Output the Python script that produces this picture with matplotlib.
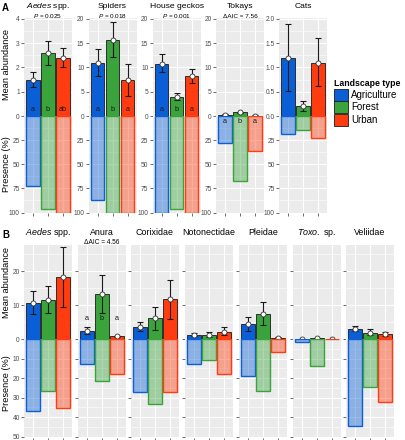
import numpy as np
import matplotlib.pyplot as plt
from matplotlib.patches import Patch
from matplotlib.colors import to_rgba

plt.rcParams['font.family'] = ['Liberation Sans', 'DejaVu Sans']
plt.rcParams['mathtext.fontset'] = 'custom'
plt.rcParams['mathtext.rm'] = 'Liberation Sans'
plt.rcParams['mathtext.it'] = 'Liberation Sans:italic'

W, H = 405, 440
landscapes = ['Agriculture', 'Forest', 'Urban']
colors = ['#0b5fd6', '#3aa33c', '#ff3c10']

# panel A
a_taxa = ['$Aedes$ spp.', 'Spiders', 'House geckos', 'Tokays', 'Cats']
a_stats = ['$P$ = 0.025', '$P$ = 0.018', '$P$ = 0.001', 'ΔAIC = 7.56', '']
a_mean = [[1.5, 2.6, 2.4], [11.0, 15.7, 7.4], [10.8, 4.0, 8.2], [0.25, 0.8, 0.08], [1.2, 0.2, 1.1]]
a_lo = [[1.2, 2.1, 2.0], [8.2, 12.1, 4.1], [9.1, 3.3, 6.7], [0.2, 0.7, 0.0], [0.52, 0.1, 0.61]]
a_hi = [[1.8, 3.1, 2.8], [13.7, 19.3, 10.7], [12.7, 4.8, 9.7], [0.35, 0.9, 0.15], [1.9, 0.31, 1.6]]
a_presence = [[73, 96, 100], [87, 100, 100], [100, 96, 100], [28, 67, 36], [19, 15, 23]]
a_letters = [['a', 'b', 'ab'], ['a', 'b', 'a'], ['a', 'b', 'a'], ['a', 'b', 'a'], []]
a_ymax = [4, 20, 20, 20, 2]
a_ystep = [1, 5, 5, 5, 0.5]

# panel B
b_taxa = ['$Aedes$ spp.', 'Anura', 'Corixidae', 'Notonectidae', 'Pleidae', '$Toxo.$ sp.', 'Veliidae']
b_stats = ['', 'ΔAIC = 4.56', '', '', '', '', '']
b_mean = [[10.6, 11.6, 18.2], [2.45, 13.3, 0.8], [3.6, 6.1, 11.8], [1.2, 1.2, 2.0],
          [4.5, 7.35, 0.4], [0.05, 0.25, 0.0], [2.9, 1.9, 1.5]]
b_lo = [[7.4, 7.8, 9.4], [1.5, 7.6, 0.7], [2.3, 2.7, 5.9], [0.8, 0.6, 1.3],
        [2.5, 4.2, 0.35], [0.0, 0.2, 0.0], [2.45, 1.2, 1.0]]
b_hi = [[14.0, 15.5, 27.1], [3.5, 18.8, 0.9], [5.1, 9.3, 17.5], [1.8, 2.1, 3.5],
        [6.5, 10.8, 0.5], [0.1, 0.35, 0.0], [3.7, 2.9, 2.0]]
b_presence = [[36.6, 26.4, 35.2], [12.8, 21.3, 17.9], [27.2, 33.2, 26.9], [12.8, 10.5, 17.7],
              [19.0, 26.4, 6.5], [1.7, 14.0, 0.0], [44.6, 24.7, 32.3]]
b_letters = [[], ['a', 'b', 'a'], [], [], [], [], []]

fig = plt.figure(figsize=(W / 100, H / 100), dpi=100)
x = np.arange(1, 4)
FW = 48


def style(ax):
    ax.set_facecolor('#EBEBEB')
    for s in ax.spines.values():
        s.set_visible(False)
    ax.set_xlim(0.4, 3.6)
    ax.set_xticks(x)
    ax.grid(True, which='major', color='white', lw=0.8, zorder=0)
    ax.grid(True, which='minor', axis='y', color='white', lw=0.4, zorder=0)
    ax.set_axisbelow(True)
    ax.tick_params(axis='y', which='major', length=2, width=0.5, color='#333333',
                   labelsize=4.8, labelcolor='#4d4d4d', pad=1)
    ax.tick_params(axis='y', which='minor', length=0)


def facet(x0, top, zero, bottom, mean, lo, hi, pres, umax, uticks, uminor, lmax, lticks, lminor, labels=True):
    ax_u = fig.add_axes([x0 / W, 1 - zero / H, FW / W, (zero - top) / H])
    ax_l = fig.add_axes([x0 / W, 1 - bottom / H, FW / W, (bottom - zero) / H])
    for ax in (ax_u, ax_l):
        style(ax)
    ax_u.set_ylim(0, umax)
    ax_u.set_yticks(uticks)
    ax_u.set_yticks(uminor, minor=True)
    ax_u.tick_params(axis='x', length=0, labelbottom=False)
    ax_l.set_ylim(lmax, 0)
    ax_l.set_yticks(lticks)
    ax_l.set_yticks(lminor, minor=True)
    ax_l.tick_params(axis='x', length=2, width=0.5, color='#333333', labelbottom=False)
    if not labels:
        ax_u.tick_params(axis='y', labelleft=False)
        ax_l.tick_params(axis='y', labelleft=False)

    ax_l.bar(x, pres, width=0.9, color=[to_rgba(c, 0.42) for c in colors],
             edgecolor=colors, lw=1.0, zorder=2)
    ax_u.bar(x, mean, width=0.9, color=colors, edgecolor='#1a1a1a', lw=0.6, zorder=2)
    m = np.array(mean)
    ax_u.errorbar(x, m, yerr=[m - np.array(lo), np.array(hi) - m], fmt='none',
                  ecolor='#1a1a1a', elinewidth=0.8, capsize=2.4, capthick=0.8, zorder=3)
    ax_u.plot(x, m, 'o', mfc='white', mec='#333333', ms=3.6, mew=0.6, zorder=4, clip_on=False)
    return ax_u, ax_l


# ---- panel A
a_left = [24, 88.5, 152.5, 216, 279]
for i in range(5):
    step = a_ystep[i]
    ymax = a_ymax[i]
    ax_u, ax_l = facet(a_left[i], 18, 116, 213.5, a_mean[i], a_lo[i], a_hi[i], a_presence[i],
                       ymax * 1.008, np.arange(0, ymax + step / 2, step),
                       np.arange(step / 2, ymax, step),
                       101, [25, 50, 75, 100], [12.5, 37.5, 62.5, 87.5])
    if step < 1:
        ax_u.set_yticklabels(['%.1f' % v for v in np.arange(0, ymax + step / 2, step)])
    cx = a_left[i] + FW / 2
    fig.text(cx / W, 1 - 8.4 / H, a_taxa[i], ha='center', va='baseline', fontsize=6.1)
    if a_stats[i]:
        fig.text(cx / W, 1 - 17.8 / H, a_stats[i], ha='center', va='baseline', fontsize=4.6)
    for j, lab in enumerate(a_letters[i]):
        if a_mean[i][j] > 1 or ymax < 10:
            ax_u.text(x[j], 0.065, lab, transform=ax_u.get_xaxis_transform(),
                      ha='center', va='center', fontsize=5.2, color='#1a1a1a', zorder=5)
        else:
            ax_l.text(x[j], 0.94, lab, transform=ax_l.get_xaxis_transform(),
                      ha='center', va='center', fontsize=5.2, color='#1a1a1a', zorder=5)

# ---- panel B
b_left = [24, 78, 131, 185, 239, 293, 346]
for i in range(7):
    ax_u, ax_l = facet(b_left[i], 245, 339, 438, b_mean[i], b_lo[i], b_hi[i], b_presence[i],
                       27.7, [0, 10, 20], [5, 15, 25],
                       50.6, [10, 20, 30, 40, 50], [5, 15, 25, 35, 45], labels=(i == 0))
    cx = b_left[i] + FW / 2
    fig.text(cx / W, 1 - 235 / H, b_taxa[i], ha='center', va='baseline', fontsize=6.4)
    if b_stats[i]:
        fig.text(cx / W, 1 - 244 / H, b_stats[i], ha='center', va='baseline', fontsize=4.7)
    for j, lab in enumerate(b_letters[i]):
        ax_u.text(x[j], 5.9, lab, ha='center', va='center', fontsize=5.2, color='#1a1a1a', zorder=5)

# axis titles and panel tags
for yc, lab in [(64, 'Mean abundance'), (164, 'Presence (%)'), (282, 'Mean abundance'), (383, 'Presence (%)')]:
    fig.text(7 / W, 1 - yc / H, lab, rotation=90, ha='center', va='center', fontsize=6.6)
fig.text(2 / W, 1 - 8 / H, 'A', fontsize=7, fontweight='bold', va='center', ha='left')
fig.text(2 / W, 1 - 235 / H, 'B', fontsize=7, fontweight='bold', va='center', ha='left')

handles = [Patch(facecolor=c, edgecolor='#1a1a1a', lw=0.6) for c in colors]
fig.legend(handles, landscapes, loc='upper left', bbox_to_anchor=(334 / W, 1 - 79 / H),
           frameon=False, title='Landscape type', title_fontproperties={'weight': 'bold', 'size': 6.3},
           fontsize=7, handlelength=1.45, handleheight=1.45, labelspacing=0.1,
           handletextpad=0.3, borderpad=0, borderaxespad=0, alignment='left')

fig.savefig('out.png', dpi=100)
